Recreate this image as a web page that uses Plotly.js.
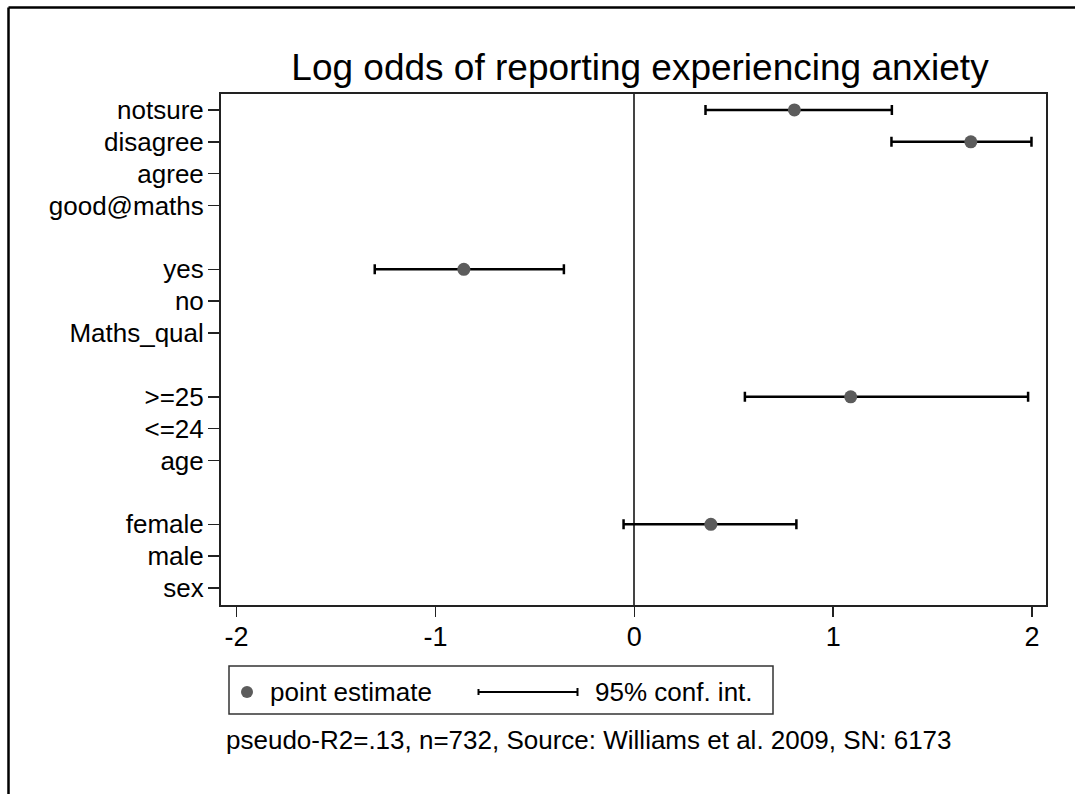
<!DOCTYPE html>
<html>
<head>
<meta charset="utf-8">
<script src="https://cdn.plot.ly/plotly-3.0.1.min.js"></script>
<style>
html, body { margin: 0; padding: 0; background: #fff; }
#chart { width: 1075px; height: 794px; }
</style>
</head>
<body>
<div id="chart"></div>
<script>
// Row labels (bottom to top) and their row index on the y scale
var rowLabels = ['sex', 'male', 'female', 'age', '<=24', '>=25', 'Maths_qual', 'no', 'yes', 'good@maths', 'agree', 'disagree', 'notsure'];
var rowIndex  = [0, 1, 2, 4, 5, 6, 8, 9, 10, 12, 13, 14, 15];
// Point estimates and 95% confidence bounds (null = reference / header row)
var estimate  = [null, null, 0.385, null, null, 1.088, null, null, -0.857, null, null, 1.692, 0.805];
var ciLow     = [null, null, -0.054, null, null, 0.556, null, null, -1.305, null, null, 1.293, 0.358];
var ciHigh    = [null, null, 0.815, null, null, 1.980, null, null, -0.354, null, null, 1.997, 1.295];
var xTicks    = [-2, -1, 0, 1, 2];

var titleText = 'Log odds of reporting experiencing anxiety';
var noteText  = 'pseudo-R2=.13, n=732, Source: Williams et al. 2009, SN: 6173';
var legendPoint = 'point estimate';
var legendCI    = '95% conf. int.';

var plusErr = estimate.map(function (v, i) { return v === null ? null : ciHigh[i] - v; });
var minusErr = estimate.map(function (v, i) { return v === null ? null : v - ciLow[i]; });

var FONT = 'Liberation Sans, Arial, Helvetica, sans-serif';

// layout geometry (pixels)
var W = 1075, H = 794, L = 221, R = 29, T = 94, B = 189;
var PW = W - L - R, PH = H - T - B;
function px(x) { return (x - L) / PW; }
function py(y) { return (H - B - y) / PH; }

var trace = {
  x: estimate,
  y: rowIndex,
  type: 'scatter',
  mode: 'markers',
  marker: { color: '#5c5c5c', size: 13 },
  error_x: {
    type: 'data',
    symmetric: false,
    array: plusErr,
    arrayminus: minusErr,
    color: '#000000',
    thickness: 2.5,
    width: 5
  },
  showlegend: false,
  hoverinfo: 'x+y'
};

var shapes = [
  // outer frame (left and top edges)
  { type: 'line', xref: 'paper', yref: 'paper', x0: px(8.5), x1: px(8.5), y0: py(7.5), y1: py(820), line: { color: '#000', width: 2.5 } },
  { type: 'line', xref: 'paper', yref: 'paper', x0: px(8.5), x1: px(1100), y0: py(7.5), y1: py(7.5), line: { color: '#000', width: 2.5 } },
  // legend box
  { type: 'rect', xref: 'paper', yref: 'paper', x0: px(229), x1: px(773), y0: py(666), y1: py(714), line: { color: '#333', width: 1.5 }, fillcolor: 'rgba(0,0,0,0)' },
  // legend marker
  { type: 'circle', xref: 'paper', yref: 'paper', x0: px(241), x1: px(253), y0: py(686), y1: py(698), line: { color: '#5c5c5c', width: 0 }, fillcolor: '#5c5c5c' },
  // legend CI line with caps
  { type: 'line', xref: 'paper', yref: 'paper', x0: px(478), x1: px(578), y0: py(692), y1: py(692), line: { color: '#000', width: 2 } },
  { type: 'line', xref: 'paper', yref: 'paper', x0: px(478.5), x1: px(478.5), y0: py(689), y1: py(695), line: { color: '#000', width: 2 } },
  { type: 'line', xref: 'paper', yref: 'paper', x0: px(577.5), x1: px(577.5), y0: py(688), y1: py(696), line: { color: '#000', width: 2 } }
];

var annotations = [
  { xref: 'paper', yref: 'paper', x: px(268), y: py(692), xanchor: 'left', yanchor: 'middle', showarrow: false,
    text: legendPoint, font: { family: FONT, size: 26, color: '#000' } },
  { xref: 'paper', yref: 'paper', x: px(593), y: py(692), xanchor: 'left', yanchor: 'middle', showarrow: false,
    text: legendCI, font: { family: FONT, size: 26, color: '#000' } },
  { xref: 'paper', yref: 'paper', x: px(224), y: py(740), xanchor: 'left', yanchor: 'middle', showarrow: false,
    text: noteText, font: { family: FONT, size: 26, color: '#000' } }
];

var layout = {
  width: W, height: H,
  margin: { l: L, r: R, t: T, b: B, pad: 0 },
  paper_bgcolor: '#ffffff',
  plot_bgcolor: '#ffffff',
  font: { family: FONT, color: '#000' },
  title: {
    text: titleText,
    font: { family: FONT, size: 37, color: '#000' },
    xref: 'paper', x: px(640), xanchor: 'center',
    yref: 'container', y: 1 - 67 / H, yanchor: 'middle'
  },
  xaxis: {
    range: [-2.078, 2.07],
    tickvals: xTicks,
    ticktext: xTicks.map(String),
    ticks: 'outside', ticklen: 10, tickwidth: 1.5, tickcolor: '#222',
    ticklabelstandoff: -3,
    tickfont: { family: FONT, size: 27, color: '#000' },
    showgrid: false,
    zeroline: true, zerolinecolor: '#444', zerolinewidth: 2,
    showline: true, linecolor: '#222', linewidth: 2, mirror: true,
    fixedrange: true
  },
  yaxis: {
    range: [-0.53, 15.5],
    tickvals: rowIndex,
    ticktext: rowLabels,
    ticks: 'outside', ticklen: 11, tickwidth: 1.5, tickcolor: '#222',
    ticklabelstandoff: -1,
    tickfont: { family: FONT, size: 26, color: '#000' },
    showgrid: false, zeroline: false,
    showline: true, linecolor: '#222', linewidth: 2, mirror: true,
    fixedrange: true
  },
  shapes: shapes,
  annotations: annotations,
  showlegend: false
};

Plotly.newPlot('chart', [trace], layout, { displayModeBar: false, staticPlot: true });
</script>
</body>
</html>
